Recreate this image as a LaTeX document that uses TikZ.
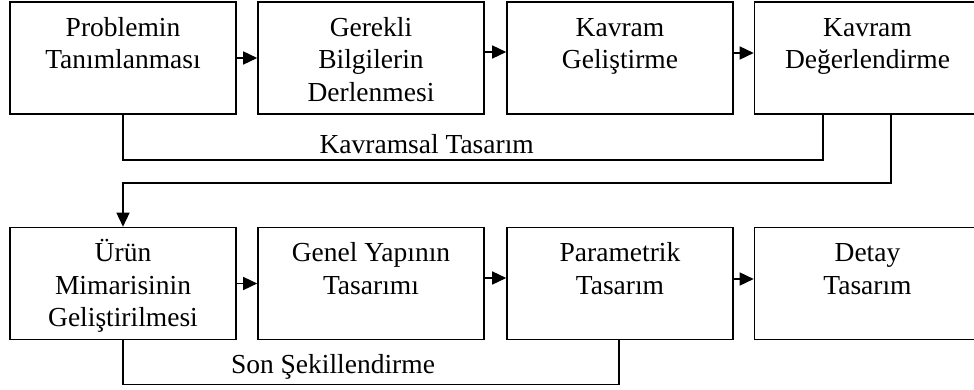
\documentclass[tikz,border=0pt]{standalone}
\usepackage{fontspec}
\setmainfont{Liberation Serif}
\usetikzlibrary{arrows.meta}
\newcommand{\stagefont}{\fontsize{27.5}{32.5}\selectfont}
\newcommand{\stagetext}[1]{\parbox[t]{224pt}{\centering #1}}
\begin{document}
\begin{tikzpicture}[x=1pt,y=-1pt,
  stagebox/.style={draw, line width=1.6pt, minimum width=226pt, minimum height=112pt, inner sep=0pt},
  stagelabel/.style={anchor=base, inner sep=0pt, font=\stagefont},
  conn/.style={line width=1.5pt},
  arr/.style={conn, -{Triangle[length=14pt,width=13pt]}}]
\useasboundingbox (0,0) rectangle (974,390);
\clip (0,0) rectangle (974,390);

% design stages, first row
\node[stagebox] (b1) at (123,58) {};
\node[stagebox] (b2) at (371,58) {};
\node[stagebox] (b3) at (620,58) {};
\node[stagebox] (b4) at (867.5,58) {};
% design stages, second row
\node[stagebox] (b5) at (123,283.5) {};
\node[stagebox] (b6) at (371,283.5) {};
\node[stagebox] (b7) at (620,283.5) {};
\node[stagebox] (b8) at (867.5,283.5) {};

% stage captions
\node[stagelabel] (t1) at ([yshift=-35pt]b1.north) {\stagetext{Problemin\\Tanımlanması}};
\node[stagelabel] (t2) at ([yshift=-35pt]b2.north) {\stagetext{Gerekli\\Bilgilerin\\Derlenmesi}};
\node[stagelabel] (t3) at ([yshift=-35pt]b3.north) {\stagetext{Kavram\\Geliştirme}};
\node[stagelabel] (t4) at ([yshift=-35pt]b4.north) {\stagetext{Kavram\\Değerlendirme}};
\node[stagelabel] (t5) at ([yshift=-35pt]b5.north) {\stagetext{Ürün\\Mimarisinin\\Geliştirilmesi}};
\node[stagelabel] (t6) at ([yshift=-35pt]b6.north) {\stagetext{Genel Yapının\\Tasarımı}};
\node[stagelabel] (t7) at ([yshift=-35pt]b7.north) {\stagetext{Parametrik\\Tasarım}};
\node[stagelabel] (t8) at ([yshift=-35pt]b8.north) {\stagetext{Detay\\Tasarım}};

% flow between stages
\draw[arr] (b1.east) -- (b2.west);
\draw[arr] ([yshift=6pt]b2.east) -- ([yshift=6pt]b3.west);
\draw[arr] ([yshift=5pt]b3.east) -- ([yshift=5pt]b4.west);
\draw[arr] (b5.east) -- (b6.west);
\draw[arr] ([yshift=5.5pt]b6.east) -- ([yshift=5.5pt]b7.west);
\draw[arr] ([yshift=4.5pt]b7.east) -- ([yshift=4.5pt]b8.west);

% phase brackets
\draw[conn] (b1.south) -- ++(0,45) -| ([xshift=-44.5pt]b4.south);
\node[stagelabel] (ks) at (426.7,153.3) {Kavramsal Tasarım};
\draw[arr] ([xshift=23.5pt]b4.south) -- ++(0,68) -| (b5.north);
\draw[conn] (b5.south) -- ++(0,44) -| ([xshift=-1pt]b7.south);
\node[stagelabel] (ss) at (333,373.3) {Son Şekillendirme};
\end{tikzpicture}
\end{document}
